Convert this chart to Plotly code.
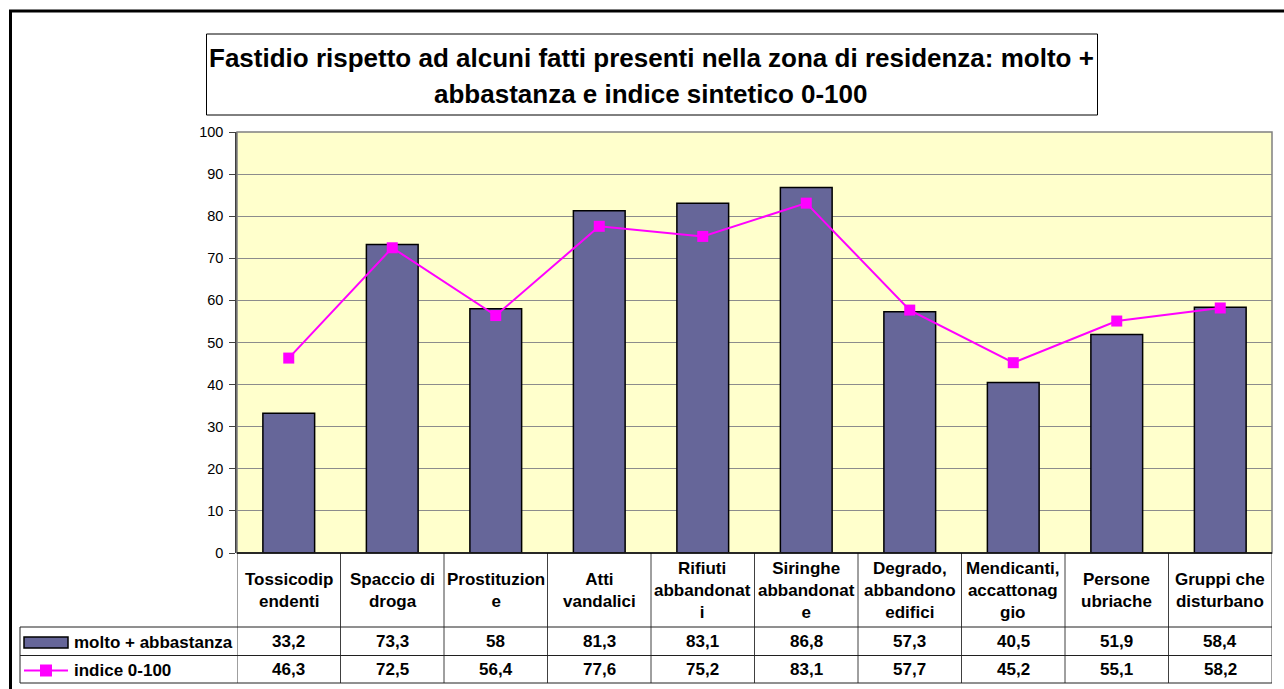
import plotly.graph_objects as go

categories = [
    "Tossicodip<br>endenti", "Spaccio di<br>droga", "Prostituzion<br>e", "Atti<br>vandalici",
    "Rifiuti<br>abbandonat<br>i", "Siringhe<br>abbandonat<br>e", "Degrado,<br>abbandono<br>edifici",
    "Mendicanti,<br>accattonag<br>gio", "Persone<br>ubriache", "Gruppi che<br>disturbano",
]
molto_abbastanza = [33.2, 73.3, 58, 81.3, 83.1, 86.8, 57.3, 40.5, 51.9, 58.4]
indice = [46.3, 72.5, 56.4, 77.6, 75.2, 83.1, 57.7, 45.2, 55.1, 58.2]
series_names = ["molto + abbastanza", "indice 0-100"]
title_lines = ["Fastidio rispetto ad alcuni fatti presenti nella zona di residenza: molto +",
               "abbastanza e indice sintetico 0-100"]

W, H = 1284, 689
L, R, T, B = 237, 12, 132, 136
PW, PH = W - L - R, H - T - B
FONT = "Liberation Sans, Arial, sans-serif"
BAR = "#666699"
MAG = "#FF00FF"


def px_x(x):
    return (x - L) / PW


def px_y(y):
    return (H - B - y) / PH


def fmt(v):
    s = ("%g" % v)
    return s.replace(".", ",")


xs = list(range(len(categories)))

fig = go.Figure()
fig.add_trace(go.Bar(x=xs, y=molto_abbastanza, name=series_names[0], width=0.5,
                     marker=dict(color=BAR, line=dict(color="#000000", width=1.5)),
                     showlegend=False))
fig.add_trace(go.Scatter(x=xs, y=indice, name=series_names[1], mode="lines+markers",
                         line=dict(color=MAG, width=2),
                         marker=dict(symbol="square", size=11, color=MAG),
                         showlegend=False))

shapes = []
annotations = []

# outer frame
shapes.append(dict(type="rect", xref="paper", yref="paper",
                   x0=px_x(10.5), x1=px_x(1300), y0=px_y(11), y1=px_y(720),
                   line=dict(color="#000000", width=3), layer="below"))
# title box
shapes.append(dict(type="rect", xref="paper", yref="paper",
                   x0=px_x(206.5), x1=px_x(1097.5), y0=px_y(34), y1=px_y(115),
                   line=dict(color="#000000", width=1), fillcolor="#FFFFFF"))
title_font = dict(family=FONT, size=26, color="#000000", weight="bold")
annotations.append(dict(xref="paper", yref="paper", x=px_x(651), y=px_y(58.5), text=title_lines[0],
                        showarrow=False, xanchor="center", yanchor="middle", font=title_font))
annotations.append(dict(xref="paper", yref="paper", x=px_x(651), y=px_y(93.5), text=title_lines[1],
                        showarrow=False, xanchor="center", yanchor="middle", font=title_font))

# plot area border
shapes.append(dict(type="rect", xref="paper", yref="paper", x0=0, x1=1, y0=0, y1=1,
                   line=dict(color="#808080", width=1.5)))

# data table
y_hdr, y_r1, y_r2 = px_y(627), px_y(655.5), px_y(683)
n = len(categories)
for i in range(n + 1):
    shapes.append(dict(type="line", xref="x", yref="paper", x0=i - 0.5, x1=i - 0.5,
                       y0=0, y1=y_r2, line=dict(color="#404040", width=1)))
for yy in (y_hdr, y_r1, y_r2):
    shapes.append(dict(type="line", xref="paper", yref="paper", x0=px_x(20), x1=1,
                       y0=yy, y1=yy, line=dict(color="#202020", width=1)))
shapes.append(dict(type="line", xref="paper", yref="paper", x0=px_x(20), x1=px_x(20),
                   y0=y_hdr, y1=y_r2, line=dict(color="#202020", width=1)))
shapes.append(dict(type="line", xref="paper", yref="paper", x0=0, x1=1, y0=0, y1=0,
                   line=dict(color="#000000", width=1.5)))

cell_font = dict(family=FONT, size=17, color="#000000", weight="bold")
for i, c in enumerate(categories):
    annotations.append(dict(xref="x", yref="paper", x=i, y=px_y(590), text=c, showarrow=False,
                            xanchor="center", yanchor="middle", align="center", font=cell_font))
    annotations.append(dict(xref="x", yref="paper", x=i, y=px_y(641.5), text=fmt(molto_abbastanza[i]),
                            showarrow=False, xanchor="center", yanchor="middle", font=cell_font))
    annotations.append(dict(xref="x", yref="paper", x=i, y=px_y(669.5), text=fmt(indice[i]),
                            showarrow=False, xanchor="center", yanchor="middle", font=cell_font))

# legend keys inside the table
shapes.append(dict(type="rect", xref="paper", yref="paper", x0=px_x(24), x1=px_x(68),
                   y0=px_y(637), y1=px_y(648), fillcolor=BAR, line=dict(color="#000000", width=1.5)))
shapes.append(dict(type="line", xref="paper", yref="paper", x0=px_x(24), x1=px_x(68),
                   y0=px_y(670.5), y1=px_y(670.5), line=dict(color=MAG, width=2)))
shapes.append(dict(type="rect", xref="paper", yref="paper", x0=px_x(40), x1=px_x(52),
                   y0=px_y(664.5), y1=px_y(676.5), fillcolor=MAG, line=dict(color=MAG, width=0)))
annotations.append(dict(xref="paper", yref="paper", x=px_x(72), y=px_y(642), text=series_names[0],
                        showarrow=False, xanchor="left", yanchor="middle", font=cell_font))
annotations.append(dict(xref="paper", yref="paper", x=px_x(72), y=px_y(670), text=series_names[1],
                        showarrow=False, xanchor="left", yanchor="middle", font=cell_font))

fig.update_layout(
    width=W, height=H,
    margin=dict(l=L, r=R, t=T, b=B, pad=0),
    paper_bgcolor="#FFFFFF", plot_bgcolor="#FFFFCC",
    font=dict(family=FONT, size=14, color="#000000"),
    bargap=0.5,
    shapes=shapes, annotations=annotations,
    xaxis=dict(type="linear", range=[-0.5, n - 0.5], showticklabels=False, showgrid=False,
               zeroline=False, ticks="", fixedrange=True),
    yaxis=dict(range=[0, 100], dtick=10, tick0=0, showgrid=True, gridcolor="#8C8C8C", gridwidth=1,
               zeroline=False, showline=True, linecolor="#404040", linewidth=1.5,
               ticks="outside", ticklen=6, tickcolor="#404040", tickwidth=1,
               ticklabelstandoff=3, tickfont=dict(family=FONT, size=14.5, color="#000000")),
)

fig.write_html("out.html", config={"displayModeBar": False},
               post_script="document.body.style.margin='0';document.body.style.overflow='hidden';")
